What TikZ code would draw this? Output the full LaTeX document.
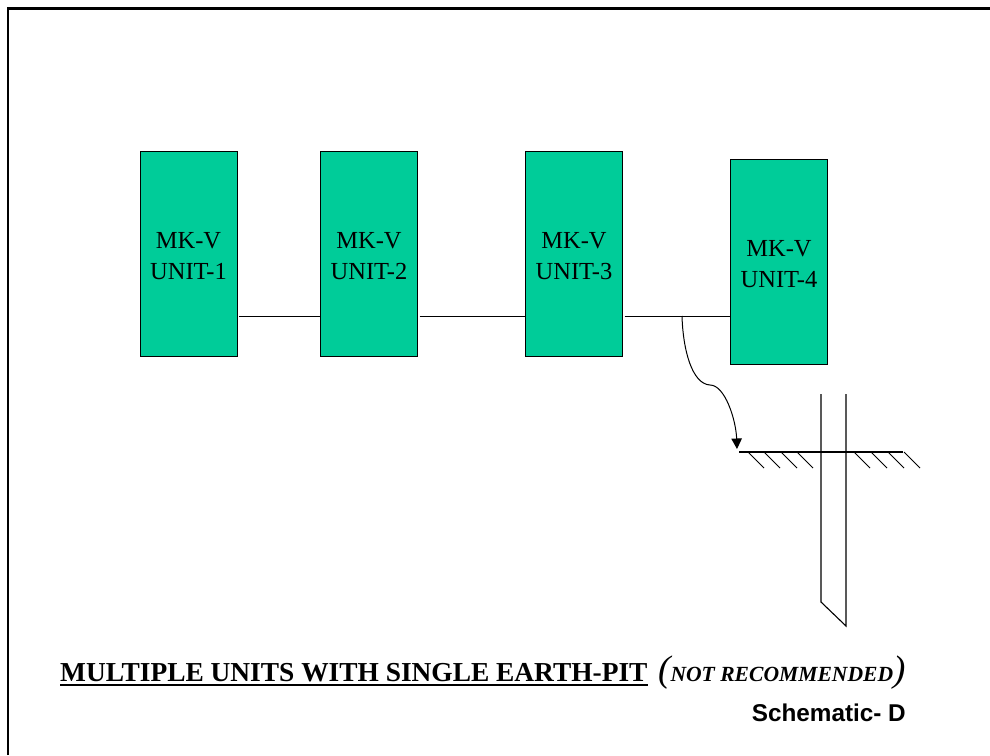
\documentclass[tikz,border=0pt]{standalone}
\usepackage{fontspec}
\setmainfont{Liberation Serif}
\setsansfont{Liberation Sans}
\usetikzlibrary{arrows.meta}
\definecolor{unitgreen}{RGB}{0,204,153}
\newcommand{\unitlabel}[1]{\begin{tabular}{@{}c@{}}\rule{0pt}{30pt}MK-V\hspace{4pt}\\UNIT-#1\end{tabular}}
\tikzset{
  x=1pt,y=-1pt,
  unitbox/.style={draw=black,line width=1pt,fill=unitgreen,minimum width=97pt,minimum height=205pt,inner sep=0pt,font=\fontsize{24.5}{31}\selectfont},
  wire/.style={line width=1pt,black},
  hatch/.style={line width=0.8pt,black},
  frameline/.style={line width=2.6pt,black}
}
\begin{document}
\begin{tikzpicture}
\useasboundingbox (0,0) rectangle (990,755);
\coordinate (ftl) at (8,8.5);
\coordinate (ftr) at (990,8.5);
\coordinate (fbl) at (8,755);
\draw[frameline,line cap=butt,line join=miter] (fbl) -- (ftl) -- (ftr);

\node[unitbox] (u1) at (188.5,253.5) {\unitlabel{1}};
\node[unitbox] (u2) at (369,253.5) {\unitlabel{2}};
\node[unitbox] (u3) at (574,253.5) {\unitlabel{3}};
\node[unitbox] (u4) at (779,261.5) {\unitlabel{4}};

\coordinate (bus) at (0,316);
\coordinate (jn) at (682,316);
\draw[wire] ([xshift=1.5pt]u1.east |- bus) -- (u2.west |- bus);
\draw[wire] ([xshift=1.5pt]u2.east |- bus) -- (u3.west |- bus);
\draw[wire] ([xshift=1.5pt]u3.east |- bus) -- (u4.west |- bus);

% ground
\coordinate (g1) at (739,452);
\coordinate (g2) at (903,452);
\coordinate (gtip) at (737,449);
\coordinate (gmid) at (710,385);
\draw[line width=1.8pt] (g1) -- (g2);
\draw[wire,-{Triangle[length=10.5pt,width=10.5pt]}] (jn) .. controls (683,350) and (692,384) .. (gmid) .. controls (725,385) and (736,420) .. (gtip);
\foreach \x in {748,764,781,797,854,871,888,904}
  \draw[hatch] (\x,452) -- ++(16,16);

% rod
\coordinate (r1) at (821,394);
\coordinate (r2) at (821,602);
\coordinate (r3) at (846,626);
\coordinate (r4) at (846,394);
\draw[line width=1.1pt] (r1) -- (r2) -- (r3) -- (r4);

% title
\node[anchor=base west,inner sep=0pt,font=\bfseries\fontsize{27.4}{27.4}\selectfont] (t1) at (60,681) {MULTIPLE UNITS WITH SINGLE EARTH-PIT};
\draw[line width=2.4pt] ([yshift=-4pt]t1.base west) -- ([yshift=-4pt]t1.base east);
\node[anchor=base west,inner sep=0pt,font=\bfseries\itshape\fontsize{21.6}{21.6}\selectfont] (t2) at (658,681) {{\mdseries\fontsize{37}{37}\selectfont(}NOT RECOMMENDED{\mdseries\fontsize{37}{37}\selectfont)}};
\node[anchor=base east,inner sep=0pt,font=\sffamily\bfseries\fontsize{24.3}{24.3}\selectfont] (t3) at (906,721) {Schematic- D};
\end{tikzpicture}
\end{document}
